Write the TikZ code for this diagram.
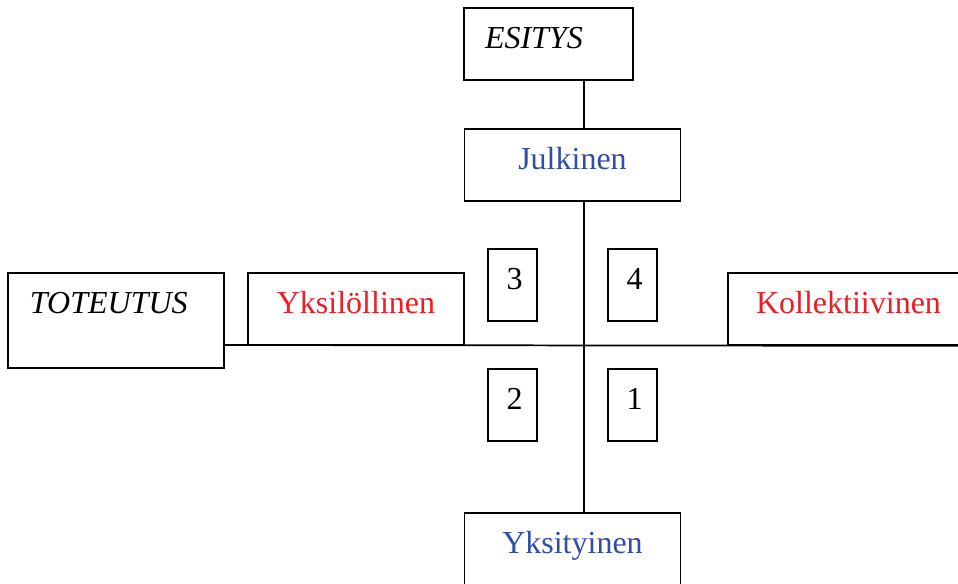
\documentclass[tikz,border=0pt]{standalone}
\usepackage{fontspec}
\setmainfont{Liberation Serif}
\usepackage{xcolor}
\definecolor{jblue}{HTML}{2F4EA6}
\definecolor{kred}{HTML}{EE1C25}

\begin{document}
\begin{tikzpicture}[
    x=0.75pt, y=-0.75pt,
    box/.style={
        rectangle, draw=black, line width=1.3pt, fill=white,
        inner sep=0pt, minimum width=162pt, minimum height=54pt,
        text height=30pt, text depth=24pt, font=\fontsize{24}{28}\selectfont
    },
    title/.style={box, minimum width=0pt, font=\fontsize{24}{28}\selectfont\itshape, align=left},
    numbox/.style={box, minimum width=36.75pt},
    axis/.style={line width=1.3pt},
]
\useasboundingbox (0,0) rectangle (958,583);

% Nodes
\node[title, text width=95.25pt, inner xsep=15.75pt] (esitys) at (548.5,44) {ESITYS};
\node[box, text=jblue] (julkinen) at (572.5,165) {Julkinen};
\node[box, text=jblue] (yksityinen) at (572.5,549) {Yksityinen};
\node[title, text width=129pt, inner xsep=16.5pt, text depth=41.25pt] (toteutus) at (116,320.5) {TOTEUTUS};
\node[box, text=kred] (yksilollinen) at (356,309) {Yksilöllinen};
\node[box, text=kred, minimum width=180.75pt] (kollektiivinen) at (848.5,309) {Kollektiivinen};
\coordinate (cross) at (584,345);

% Quadrant boxes
\node[numbox] (q3) at (512.5,285) {\hspace{3pt}3};
\node[numbox] (q4) at (632.5,285) {\hspace{3pt}4};
\node[numbox] (q2) at (512.5,405) {\hspace{3pt}2};
\node[numbox] (q1) at (632.5,405) {\hspace{3pt}1};

% Vertical axis: ESITYS -> Julkinen -> Yksityinen
\draw[axis] (esitys.south -| cross) -- (julkinen.north -| cross);
\draw[axis] (julkinen.south -| cross) -- (yksityinen.north -| cross);

% Horizontal axis: TOTEUTUS -> Kollektiivinen
\draw[axis] (toteutus.east |- cross) -- (kollektiivinen.south east);

\end{tikzpicture}
\end{document}
